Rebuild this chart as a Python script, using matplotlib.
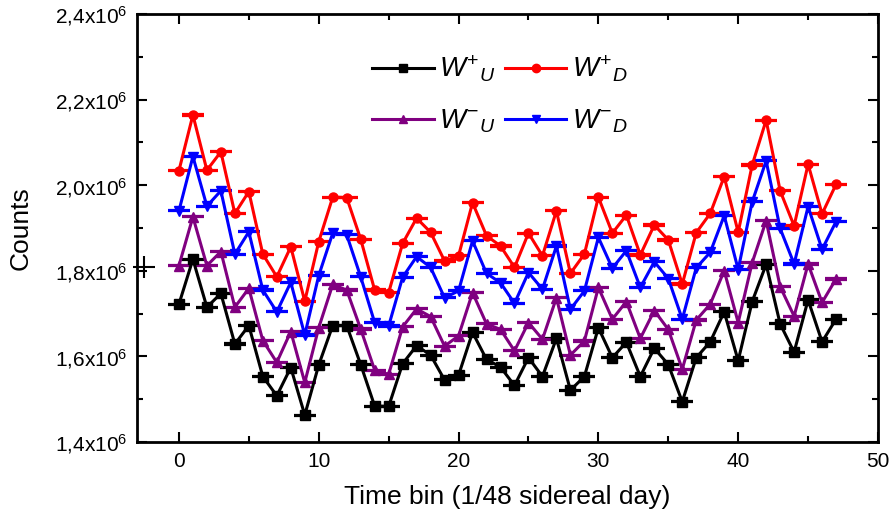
import numpy as np
import matplotlib
matplotlib.use("Agg")
import matplotlib.pyplot as plt
from matplotlib.lines import Line2D
from matplotlib.ticker import MultipleLocator, FuncFormatter

plt.rcParams['font.family'] = ['Liberation Sans', 'DejaVu Sans']
plt.rcParams['mathtext.fontset'] = 'custom'
plt.rcParams['mathtext.rm'] = 'Liberation Sans'
plt.rcParams['mathtext.it'] = 'Liberation Sans:italic'

# time bins
time_bin = np.arange(48)

# counts in units of 10^6
w_plus_u = [1.722, 1.827, 1.715, 1.747, 1.629, 1.672, 1.553, 1.508, 1.574, 1.463,
            1.580, 1.672, 1.672, 1.581, 1.484, 1.483, 1.583, 1.625, 1.603, 1.545,
            1.556, 1.656, 1.593, 1.575, 1.532, 1.597, 1.553, 1.642, 1.521, 1.553,
            1.667, 1.597, 1.633, 1.553, 1.619, 1.581, 1.494, 1.597, 1.634, 1.704,
            1.590, 1.728, 1.815, 1.676, 1.610, 1.732, 1.634, 1.687]
w_plus_d = [2.034, 2.164, 2.035, 2.078, 1.934, 1.985, 1.839, 1.786, 1.856, 1.729,
            1.868, 1.972, 1.971, 1.874, 1.755, 1.749, 1.864, 1.923, 1.890, 1.823,
            1.835, 1.959, 1.882, 1.858, 1.808, 1.888, 1.835, 1.940, 1.794, 1.839,
            1.972, 1.888, 1.930, 1.837, 1.907, 1.872, 1.769, 1.889, 1.934, 2.020,
            1.890, 2.047, 2.152, 1.987, 1.905, 2.049, 1.933, 2.002]
w_minus_u = [1.812, 1.926, 1.812, 1.845, 1.715, 1.759, 1.637, 1.586, 1.658, 1.539,
             1.667, 1.768, 1.755, 1.664, 1.568, 1.558, 1.669, 1.711, 1.693, 1.624,
             1.648, 1.749, 1.676, 1.663, 1.613, 1.679, 1.640, 1.737, 1.603, 1.636,
             1.761, 1.687, 1.728, 1.642, 1.707, 1.663, 1.570, 1.685, 1.722, 1.800,
             1.679, 1.819, 1.917, 1.763, 1.694, 1.816, 1.726, 1.781]
w_minus_d = [1.940, 2.067, 1.951, 1.987, 1.839, 1.891, 1.755, 1.704, 1.773, 1.650,
             1.789, 1.888, 1.884, 1.786, 1.679, 1.671, 1.785, 1.833, 1.808, 1.737,
             1.753, 1.870, 1.794, 1.772, 1.724, 1.796, 1.757, 1.858, 1.710, 1.753,
             1.878, 1.806, 1.847, 1.761, 1.821, 1.782, 1.687, 1.807, 1.843, 1.929,
             1.803, 1.961, 2.057, 1.899, 1.816, 1.950, 1.850, 1.915]

# stray point sitting on the left axis
stray_x = [-2.5]
stray_y = [1.81]

series = [
    (w_plus_u, 'black', 's', r'$W^{+}{}_{U}$'),
    (w_minus_u, '#800080', '^', r'$W^{-}{}_{U}$'),
    (w_plus_d, 'red', 'o', r'$W^{+}{}_{D}$'),
    (w_minus_d, 'blue', 'v', r'$W^{-}{}_{D}$'),
]

fig = plt.figure(figsize=(8.93, 5.23), dpi=100)
ax = fig.add_axes([0.1534, 0.1549, 0.8298, 0.8183])

handles = []
for vals, col, mk, lab in series:
    y = np.array(vals) * 1e6
    ax.errorbar(time_bin, y, yerr=np.sqrt(y), color=col, marker=mk, ms=6.5,
                lw=2.2, capsize=8, capthick=1.6, elinewidth=1.5)
    handles.append(Line2D([], [], color=col, marker=mk, ms=6, lw=2.2, label=lab))

ax.plot(np.array(stray_x), np.array(stray_y) * 1e6, '+', color='black',
        ms=16, mew=1.5, clip_on=False)

ax.set_xlim(-3, 50)
ax.set_ylim(1.4e6, 2.4e6)
ax.xaxis.set_major_locator(MultipleLocator(10))
ax.xaxis.set_minor_locator(MultipleLocator(5))
ax.yaxis.set_major_locator(MultipleLocator(0.2e6))
ax.yaxis.set_minor_locator(MultipleLocator(0.1e6))


def fmt(v, pos):
    s = f'{v / 1e6:.1f}'.replace('.', ',')
    return s + r'x10$^{6}$'


ax.yaxis.set_major_formatter(FuncFormatter(fmt))
ax.tick_params(which='both', direction='in', top=True, right=True, width=1.5,
               labelsize=15, pad=7)
ax.tick_params(which='major', length=7)
ax.tick_params(which='minor', length=4)
for sp in ax.spines.values():
    sp.set_linewidth(2)

ax.set_xlabel('Time bin (1/48 sidereal day)', fontsize=19, labelpad=10)
ax.set_ylabel('Counts', fontsize=19, labelpad=16)

ax.legend(handles=handles, loc='upper center', bbox_to_anchor=(0.49, 0.965), ncol=2,
          frameon=False, fontsize=20, handlelength=2.2, columnspacing=0.35,
          handletextpad=0.2, labelspacing=0.85)

fig.savefig('out.png', dpi=100)
